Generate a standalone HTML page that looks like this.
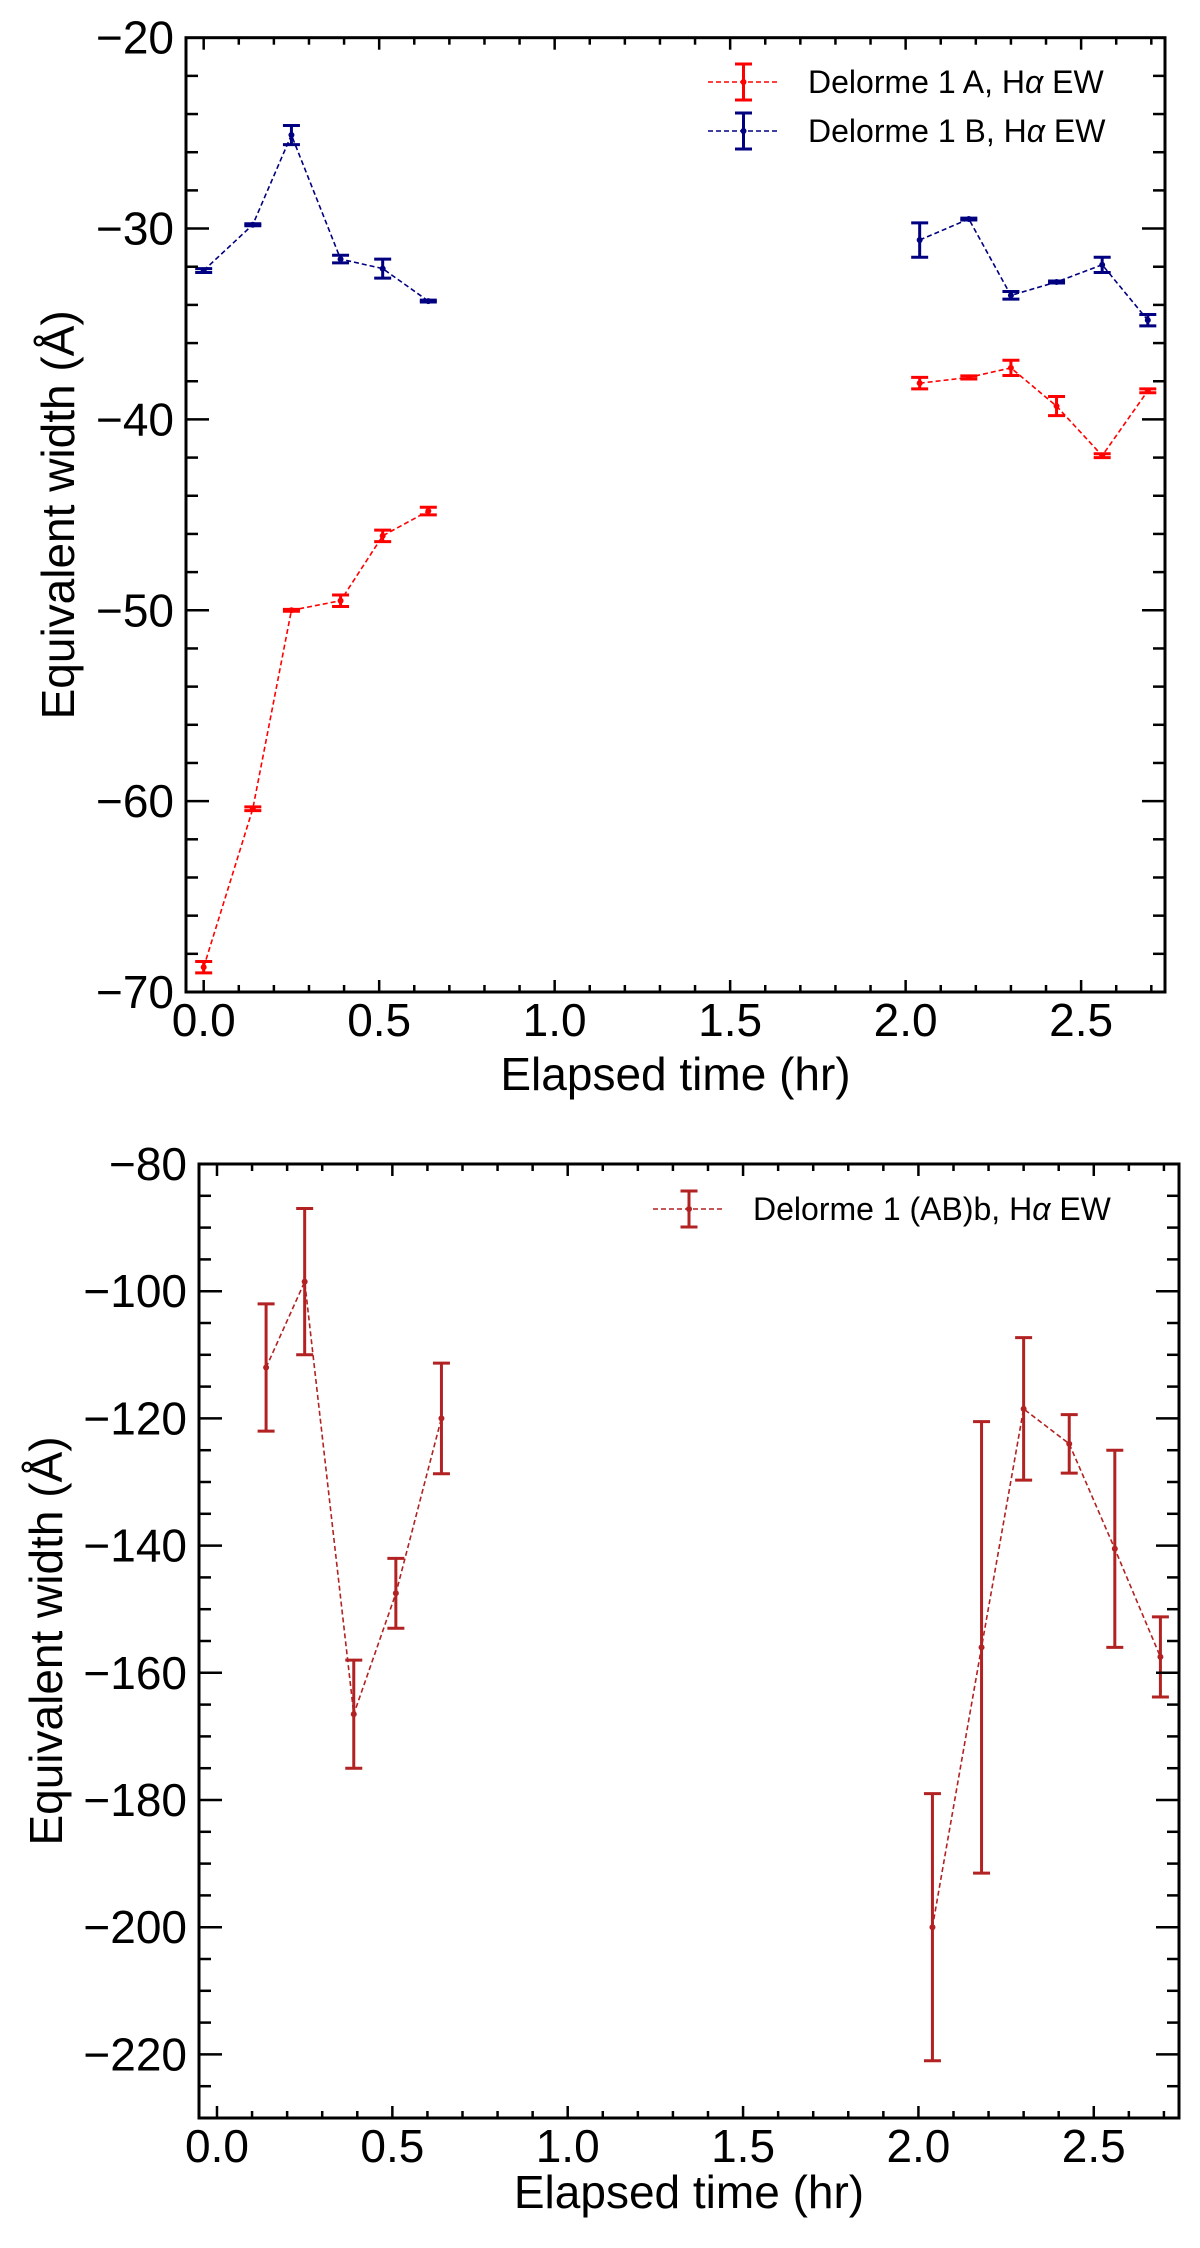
<!DOCTYPE html>
<html><head><meta charset="utf-8">
<style>
html,body{margin:0;padding:0;background:#fff;}
svg{display:block;font-family:"Liberation Sans",Arial,sans-serif;}
</style></head>
<body>
<svg id="fig" width="1200" height="2248" viewBox="0 0 1200 2248"></svg>
<script>
// ---- data: top panel ----
const timesTop = [0, 0.14, 0.25, 0.39, 0.51, 0.64, 2.04, 2.18, 2.30, 2.43, 2.56, 2.69];
const ewA = [-68.7, -60.4, -50.0, -49.5, -46.1, -44.8, -38.1, -37.8, -37.3, -39.3, -41.9, -38.5];
const errA = [0.3, 0.1, 0.05, 0.3, 0.3, 0.2, 0.3, 0.08, 0.4, 0.5, 0.1, 0.1];
const ewB = [-32.2, -29.8, -25.1, -31.6, -32.1, -33.8, -30.6, -29.5, -33.5, -32.8, -31.9, -34.8];
const errB = [0.1, 0.05, 0.5, 0.2, 0.5, 0.05, 0.9, 0.05, 0.2, 0.05, 0.4, 0.3];
// ---- data: bottom panel ----
const timesBot = [0.14, 0.25, 0.39, 0.51, 0.64, 2.04, 2.18, 2.30, 2.43, 2.56, 2.69];
const ewAB = [-112, -98.5, -166.5, -147.5, -120, -200, -156, -118.5, -124, -140.5, -157.5];
const errAB = [10, 11.5, 8.5, 5.5, 8.7, 21, 35.5, 11.2, 4.6, 15.5, 6.3];
// ---- ticks ----
const xTickLabels = ["0.0", "0.5", "1.0", "1.5", "2.0", "2.5"];
const xTickVals = [0, 0.5, 1.0, 1.5, 2.0, 2.5];
const yTicksTop = [-20, -30, -40, -50, -60, -70];
const yTicksBot = [-80, -100, -120, -140, -160, -180, -200, -220];

const NS = "http://www.w3.org/2000/svg";
const svg = document.getElementById("fig");
function mk(tag, attrs, parent) {
  const e = document.createElementNS(NS, tag);
  for (const k in attrs) e.setAttribute(k, attrs[k]);
  (parent || svg).appendChild(e);
  return e;
}

function panel(cfg) {
  const g = mk("g", {});
  
  
  const X = v => cfg.L + (v - cfg.xmin) / (cfg.xmax - cfg.xmin) * (cfg.R - cfg.L);
  const Y = v => cfg.T + (cfg.ymax - v) / (cfg.ymax - cfg.ymin) * (cfg.B - cfg.T);
  cfg.series.forEach(s => {
    const sg = mk("g", {}, g);
    
    
    // split into segments at observing gaps
    let segs = [[]];
    s.x.forEach((t, i) => {
      if (i > 0 && t - s.x[i - 1] > 0.5) segs.push([]);
      segs[segs.length - 1].push(X(t).toFixed(1) + "," + Y(s.y[i]).toFixed(1));
    });
    segs.forEach(sp => {
      const ln = mk("polyline", {points: sp.join(" "), fill: "none", stroke: s.color, "stroke-width": 1.6, "stroke-dasharray": "5,3"}, sg);
      
      
    });
    s.x.forEach((t, i) => {
      const cx = X(t), y1 = Y(s.y[i] + s.e[i]), y2 = Y(s.y[i] - s.e[i]);
      const eb = mk("g", {stroke: s.color, "stroke-width": 3}, sg);
      
      
      mk("line", {x1: cx, x2: cx, y1: y1, y2: y2}, eb);
      mk("line", {x1: cx - 8.5, x2: cx + 8.5, y1: y1, y2: y1}, eb);
      mk("line", {x1: cx - 8.5, x2: cx + 8.5, y1: y2, y2: y2}, eb);
      const p = mk("circle", {cx: cx, cy: Y(s.y[i]), r: 3, fill: s.color}, sg);
      
      
    });
  });
  const fr = mk("rect", {x: cfg.L, y: cfg.T, width: cfg.R - cfg.L, height: cfg.B - cfg.T, fill: "none", stroke: "#000", "stroke-width": 3}, g);
  
  
  const tg = mk("g", {stroke: "#000", "stroke-width": 2.5}, g);
  
  
  for (let k = -1; k <= 30; k++) {
    const v = k * 0.1;
    if (v < cfg.xmin || v > cfg.xmax) continue;
    const major = k % 5 === 0, len = major ? 12 : 7, x = X(v);
    mk("line", {x1: x, x2: x, y1: cfg.B, y2: cfg.B - len}, tg);
    mk("line", {x1: x, x2: x, y1: cfg.T, y2: cfg.T + len}, tg);
  }
  for (let v = cfg.ymin; v <= cfg.ymax + 1e-9; v += cfg.yminor) {
    const major = Math.abs(Math.round(v / cfg.ymajor) * cfg.ymajor - v) < 1e-6;
    const len = major ? 23 : 12, y = Y(v);
    mk("line", {x1: cfg.L, x2: cfg.L + len, y1: y, y2: y}, tg);
    mk("line", {x1: cfg.R, x2: cfg.R - len, y1: y, y2: y}, tg);
  }
  xTickVals.forEach((v, i) => {
    const t = mk("text", {x: X(v), y: cfg.B + 44, "font-size": 46, "text-anchor": "middle"}, g);
    t.textContent = xTickLabels[i];
    
    
  });
  cfg.yticks.forEach(v => {
    const t = mk("text", {x: cfg.L - 12, y: Y(v) + 16, "font-size": 46, "text-anchor": "end"}, g);
    t.textContent = "\u2212" + Math.abs(v);
    
    
  });
  const xt = mk("text", {x: (cfg.L + cfg.R) / 2, y: cfg.xlabY, "font-size": 46, "text-anchor": "middle"}, g);
  xt.textContent = "Elapsed time (hr)";
  
  
  const cy = (cfg.T + cfg.B) / 2;
  const yt = mk("text", {x: 0, y: 0, "font-size": 46, "text-anchor": "middle", transform: "translate(" + cfg.ylabX + "," + cy + ") rotate(-90)"}, g);
  yt.textContent = "Equivalent width (\u00C5)";
  
  
  const lg = mk("g", {}, g);
  
  
  cfg.legend.forEach(en => {
    const eg = mk("g", {}, lg);
    
    
    mk("line", {x1: en.x1, x2: en.x2, y1: en.y, y2: en.y, stroke: en.color, "stroke-width": 1.6, "stroke-dasharray": "5,3"}, eg);
    const cx = (en.x1 + en.x2) / 2;
    mk("line", {x1: cx, x2: cx, y1: en.y - 18, y2: en.y + 18, stroke: en.color, "stroke-width": 3}, eg);
    mk("line", {x1: cx - 8.5, x2: cx + 8.5, y1: en.y - 18, y2: en.y - 18, stroke: en.color, "stroke-width": 3}, eg);
    mk("line", {x1: cx - 8.5, x2: cx + 8.5, y1: en.y + 18, y2: en.y + 18, stroke: en.color, "stroke-width": 3}, eg);
    mk("circle", {cx: cx, cy: en.y, r: 3, fill: en.color}, eg);
    const t = mk("text", {x: en.tx, y: en.y + 11, "font-size": 32}, eg);
    t.innerHTML = en.pre + '<tspan font-style="italic">\u03B1</tspan> EW';
  });
}

panel({
  name: "top-panel-components-ab", L: 186, R: 1165, T: 37.7, B: 992,
  xmin: -0.0504, xmax: 2.739, ymin: -70, ymax: -20, ymajor: 10, yminor: 2,
  yticks: yTicksTop, xlabY: 1090, ylabX: 74,
  series: [
    {name: "delorme-1-a-series", x: timesTop, y: ewA, e: errA, color: "#ff0000"},
    {name: "delorme-1-b-series", x: timesTop, y: ewB, e: errB, color: "#000080"}
  ],
  legend: [
    {x1: 708, x2: 779, y: 82, color: "#ff0000", tx: 808, pre: "Delorme 1 A, H"},
    {x1: 708, x2: 779, y: 131, color: "#000080", tx: 808, pre: "Delorme 1 B, H"}
  ]
});
panel({
  name: "bottom-panel-companion-ab-b", L: 199, R: 1179, T: 1164, B: 2118,
  xmin: -0.0513, xmax: 2.743, ymin: -230, ymax: -80, ymajor: 20, yminor: 5,
  yticks: yTicksBot, xlabY: 2208, ylabX: 62,
  series: [
    {name: "delorme-1-abb-series", x: timesBot, y: ewAB, e: errAB, color: "#b22222"}
  ],
  legend: [
    {x1: 653, x2: 725, y: 1209, color: "#b22222", tx: 753, pre: "Delorme 1 (AB)b, H"}
  ]
});
</script>
</body></html>
